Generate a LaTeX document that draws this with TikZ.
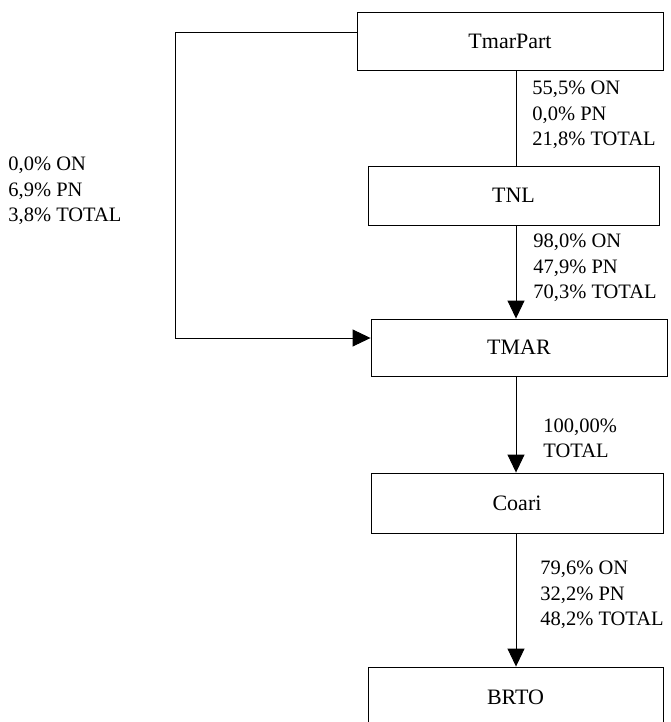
\documentclass[tikz,border=0pt]{standalone}
\usepackage{fontspec}
\setmainfont{Liberation Serif}
\usetikzlibrary{arrows.meta, calc}

\begin{document}
\begin{tikzpicture}[x=1pt, y=-1pt, line width=0.9pt,
    caixa/.style={draw, rectangle, inner sep=0pt, font=\fontsize{22}{25}\selectfont},
    pct/.style={anchor=west, align=left, inner sep=0pt, font=\fontsize{20.5}{25.5}\selectfont},
    seta/.style={-{Triangle[length=18pt, width=17pt]}}]
      % Área da figura
      \useasboundingbox (0,0) rectangle (671,722);

      % Empresas
      \node[caixa, minimum width=306pt, minimum height=58pt] (TmarPart) at (510,41) {TmarPart};
      \node[caixa, minimum width=291pt, minimum height=59pt] (TNL) at (513.5,195.5) {TNL};
      \node[caixa, minimum width=296pt, minimum height=57pt] (TMAR) at (519,347.5) {TMAR};
      \node[caixa, minimum width=292pt, minimum height=60pt] (Coari) at (517,503) {Coari};
      \node[caixa, minimum width=295pt, minimum height=60pt] (BRTO) at (515.5,697) {BRTO};

      % Eixos das ligações
      \coordinate (eixo) at (516,0);
      \coordinate (desvio) at (175,338);

      % Ligações verticais
      \draw (TmarPart.south -| eixo) -- (TNL.north -| eixo);
      \draw[seta] (TNL.south -| eixo) -- (TMAR.north -| eixo);
      \draw[seta] (TMAR.south -| eixo) -- (Coari.north -| eixo);
      \draw[seta] (Coari.south -| eixo) -- (BRTO.north -| eixo);

      % Ligação direta TmarPart -> TMAR
      \draw[seta] ([yshift=9pt]TmarPart.west) -| (desvio) -- (desvio -| TMAR.west);

      % Participações
      \node[pct] (pctTmarPart) at (532,115) {55,5\% ON\\0,0\% PN\\21,8\% TOTAL};
      \node[pct] (pctDireta) at (8,191) {0,0\% ON\\6,9\% PN\\3,8\% TOTAL};
      \node[pct] (pctTNL) at (533,268) {98,0\% ON\\47,9\% PN\\70,3\% TOTAL};
      \node[pct] (pctTMAR) at (543,438.5) {100,00\%\\TOTAL};
      \node[pct] (pctCoari) at (540,595) {79,6\% ON\\32,2\% PN\\48,2\% TOTAL};
\end{tikzpicture}
\end{document}
